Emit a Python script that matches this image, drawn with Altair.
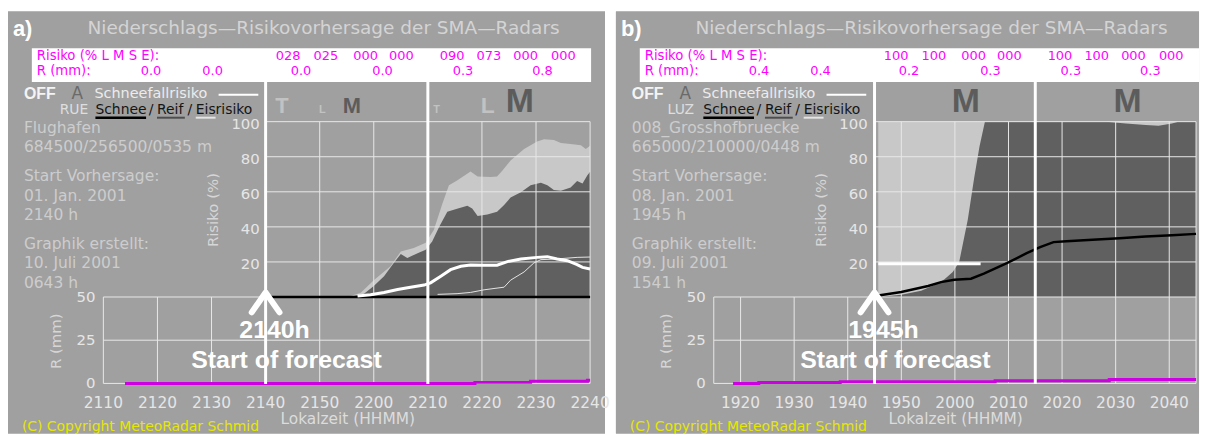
import altair as alt
import pandas as pd

# ------------------------------------------------------------------ data
RISK_TICKS = [20, 40, 60, 80, 100]
R_TICKS = [0, 25, 50]

# panel a)  (times of series are minutes after the forecast start)
A_TAG = "a)"
A_START = "2140"
A_RANGE = ["2110", "2240"]
A_AXIS_LABELS = ["2110", "2120", "2130", "2140", "2150", "2200", "2210", "2220", "2230", "2240"]
A_BLOCKS = ["2140", "2210"]
A_LIGHT_T = [15.7, 17.6, 20.0, 23.1, 25.0, 27.4, 29.6, 31.1, 32.7, 33.9, 35.4, 37.9, 39.2, 41.6, 42.8,
             43.8, 45.3, 47.8, 50.2, 51.5, 53.3, 54.6, 56.4, 58.3, 59.2, 60.0]
A_LIGHT_V = [0.6, 2.4, 9.6, 17.5, 26.0, 28.0, 31.0, 38.2, 53.3, 63.7, 66.5, 71.6, 68.7, 68.4, 68.7,
             72.1, 77.8, 84.4, 88.7, 90.0, 89.6, 87.8, 87.2, 86.6, 84.4, 86.3]
A_DARK_T = [15.7, 18.2, 20.0, 21.9, 23.7, 25.0, 26.2, 28.1, 29.6, 30.8, 32.1, 33.6, 35.4, 37.3, 38.2,
            39.2, 41.0, 42.8, 44.1, 45.3, 47.2, 49.0, 50.9, 52.1, 53.3, 54.6, 56.4, 57.6, 58.6, 59.5, 60.0]
A_DARK_V = [0.2, 1.9, 6.2, 11.9, 19.4, 24.5, 22.2, 25.0, 26.9, 31.6, 40.1, 48.6, 50.3, 52.0, 50.5,
            46.2, 47.1, 48.6, 52.4, 56.7, 59.7, 63.8, 65.1, 63.8, 61.0, 60.6, 62.5, 66.1, 64.8, 69.5, 71.4]
A_SNOWFALL_T = [17.0, 19.4, 21.9, 24.4, 26.8, 29.3, 30.5, 32.4, 34.2, 36.1, 37.9, 40.4, 42.8, 44.7,
                47.2, 50.2, 52.1, 53.9, 55.8, 57.6, 58.6, 60.0]
A_SNOWFALL_V = [0.6, 1.3, 2.6, 4.3, 5.6, 6.8, 8.1, 11.9, 15.6, 17.5, 18.3, 18.1, 18.1, 20.2,
                21.7, 22.6, 23.0, 21.7, 20.7, 18.5, 16.9, 16.0]
A_THIN_T = [31.8, 35.4, 37.9, 40.4, 44.1, 45.3, 47.8, 49.6, 50.9, 53.9, 57.6, 60.0]
A_THIN_V = [1.5, 1.9, 2.6, 4.1, 5.6, 9.6, 14.3, 19.4, 21.3, 21.7, 22.6, 22.8]
A_SCHNEE_T = [1.0, 60.0]
A_SCHNEE_V = [0.0, 0.0]
A_RAIN_T = [-26.0, 38.7, 49.0, 59.5, 60.0]
A_RAIN_V = [0.0, 0.6, 1.2, 1.8, 1.8]
A_HDR_RISK = ["028", "025", "000", "000", "090", "073", "000", "000"]
A_HDR_R = ["0.0", "0.0", "0.0", "0.0", "0.3", "0.8"]
A_STATION = "RUE"
A_INFO = ["Flughafen", "684500/256500/0535 m", "Start Vorhersage:", "01. Jan. 2001", "2140 h",
          "Graphik erstellt:", "10. Juli 2001", "0643 h"]
A_LETTERS = ["T", "L", "M", "T", "L", "M"]

# panel b)
B_TAG = "b)"
B_START = "1945"
B_RANGE = ["1915", "2045"]
B_AXIS_LABELS = ["1920", "1930", "1940", "1950", "2000", "2010", "2020", "2030", "2040"]
B_BLOCKS = ["1945", "2015"]
B_LIGHT_T = [0.7, 60.0]
B_LIGHT_V = [100.0, 100.0]
B_DARK_T = [0.7, 5.0, 8.7, 11.2, 13.0, 14.6, 15.8, 17.4, 18.6, 19.6, 20.6, 43.2, 46.9, 50.6, 53.0,
            55.5, 56.7, 60.0]
B_DARK_V = [0.0, 1.3, 3.6, 6.8, 10.0, 14.2, 20.0, 44.0, 68.0, 86.0, 100.0, 100.0, 98.9, 98.1, 97.7,
            98.9, 100.0, 100.0]
B_SNOWFALL_T = [0.7, 19.8]
B_SNOWFALL_V = [19.0, 19.0]
B_THIN_T = []
B_THIN_V = []
B_SCHNEE_T = [0.1, 5.0, 10.0, 12.4, 14.9, 18.0, 20.4, 24.7, 28.4, 30.9, 33.4, 35.8, 40.7, 45.7,
              50.6, 55.5, 60.0]
B_SCHNEE_V = [0.6, 2.8, 6.3, 8.5, 9.8, 10.4, 13.3, 19.3, 25.0, 28.4, 31.3, 31.8, 32.6, 33.5,
              34.5, 35.2, 36.0]
B_RAIN_T = [-26.4, -21.6, -6.4, 22.5, 43.8, 60.0]
B_RAIN_V = [0.0, 0.5, 1.0, 1.6, 2.2, 2.2]
B_HDR_RISK = ["100", "100", "000", "000", "100", "100", "000", "000"]
B_HDR_R = ["0.4", "0.4", "0.2", "0.3", "0.3", "0.3"]
B_STATION = "LUZ"
B_INFO = ["008_Grosshofbruecke", "665000/210000/0448 m", "Start Vorhersage:", "08. Jan. 2001",
          "1945 h", "Graphik erstellt:", "09. Juli 2001", "1541 h"]
B_LETTERS = ["M", "M"]

TITLE = "Niederschlags\u2014Risikovorhersage der SMA\u2014Radars"
COPYRIGHT = "(C) Copyright MeteoRadar Schmid"

# ------------------------------------------------------------------ style / layout
BG = "#a0a0a0"
LIGHT_AREA = "#c8c8c8"
DARK_AREA = "#606060"
GRID = "#e8e8e8"
MAGENTA = "#ff00ff"
RAIN = "#cc00e0"
INFO_C = "#cdcdcd"
TICK_C = "#e6e6e6"
TITLE_C = "#d4d4d4"
LETTER_LIGHT = "#c2c2c2"
LETTER_DARK = "#5c5c5c"
THIN = "DejaVu Sans"
BOLD = "Liberation Sans"

PANEL_H = 425
INFO_Y = [117, 137, 166, 186, 205, 234, 253, 273]
HDR_RISK_X = [282, 320, 360, 396, 447, 484, 521, 559]
HDR_R_X = [144, 206, 295, 377, 458, 538]
A_LETTER_POS = [(269, 95, 22), (313, 99, 11), (337, 95, 22), (428, 99, 11), (476, 95, 23), (501, 91, 34)]
A_LETTER_COL = [LETTER_LIGHT, LETTER_LIGHT, LETTER_DARK, LETTER_LIGHT, LETTER_LIGHT, LETTER_DARK]
B_LETTER_POS = [(338, 91, 34), (501, 91, 34)]
B_LETTER_COL = [LETTER_DARK, LETTER_DARK]

ONE = pd.DataFrame({"k": [0]})


def mins(hhmm):
    return int(hhmm[:2]) * 60 + int(hhmm[2:])


def label(txt, x, y, size, color, font=THIN, weight="normal", align="left", angle=None):
    kw = dict(align=align, baseline="middle", fontSize=size, color=color, font=font, fontWeight=weight)
    if angle is not None:
        kw["angle"] = angle
    return alt.Chart(ONE).mark_text(**kw).encode(x=alt.value(x), y=alt.value(y), text=alt.value(txt))


def hline(x1, x2, y, color, width):
    return alt.Chart(ONE).mark_rule(color=color, strokeWidth=width).encode(
        x=alt.value(x1), x2=alt.value(x2), y=alt.value(y))


def panel(tag, start, trange, x_px, axis_labels, blocks, light, dark, snowfall, thin, schnee, rain,
          hdr_risk, hdr_r, station, info, letters, letter_pos, letter_col, width):
    s0 = mins(start)
    t0, t1 = mins(trange[0]), mins(trange[1])
    xs = alt.Scale(domain=[t0, t1], range=x_px, nice=False, zero=False)
    yr = alt.Scale(domain=[0, 100], range=[287.5, 111], nice=False, zero=False)
    ym = alt.Scale(domain=[0, 50], range=[374.5, 287.5], nice=False, zero=False)

    def X(f):
        return alt.X(f, type="quantitative", scale=xs, axis=None)

    def YR(f):
        return alt.Y(f, type="quantitative", scale=yr, axis=None)

    def YM(f):
        return alt.Y(f, type="quantitative", scale=ym, axis=None)

    def ser(tv):
        t, v = tv
        return pd.DataFrame({"t": [s0 + o for o in t], "v": v})

    block_t = [mins(b) for b in blocks]
    r_grid_t = sorted(set([t0, t1] + [mins(s) for s in axis_labels]) - set(block_t))
    risk_grid_t = [t for t in r_grid_t if t > s0]

    layers = []
    # panel background
    layers.append(alt.Chart(ONE).mark_rect(color=BG).encode(
        x=alt.value(0), x2=alt.value(width), y=alt.value(0), y2=alt.value(PANEL_H)))
    # header box
    layers.append(alt.Chart(ONE).mark_rect(color="white").encode(
        x=alt.value(24), x2=alt.value(587), y=alt.value(37), y2=alt.value(71)))
    # risk areas
    layers.append(alt.Chart(ser(light)).mark_area(color=LIGHT_AREA, opacity=1).encode(
        x=X("t"), y=YR("v"), y2=alt.datum(0)))
    layers.append(alt.Chart(ser(dark)).mark_area(color=DARK_AREA, opacity=1).encode(
        x=X("t"), y=YR("v"), y2=alt.datum(0)))
    # risk grid
    layers.append(alt.Chart(pd.DataFrame({"v": RISK_TICKS, "a": s0, "b": t1})).mark_rule(
        color=GRID, strokeWidth=1).encode(x=X("a"), x2="b:Q", y=YR("v")))
    layers.append(alt.Chart(pd.DataFrame({"t": risk_grid_t, "lo": 0, "hi": 100})).mark_rule(
        color=GRID, strokeWidth=1).encode(x=X("t"), y=YR("lo"), y2="hi:Q"))
    # precipitation grid
    layers.append(alt.Chart(pd.DataFrame({"v": R_TICKS, "a": t0, "b": t1})).mark_rule(
        color=GRID, strokeWidth=1).encode(x=X("a"), x2="b:Q", y=YM("v")))
    layers.append(alt.Chart(pd.DataFrame({"t": r_grid_t, "lo": 0, "hi": 50})).mark_rule(
        color=GRID, strokeWidth=1).encode(x=X("t"), y=YM("lo"), y2="hi:Q"))
    # risk lines
    if thin[0]:
        layers.append(alt.Chart(ser(thin)).mark_line(color="#e4e4e4", strokeWidth=1).encode(
            x=X("t"), y=YR("v")))
    layers.append(alt.Chart(ser(schnee)).mark_line(color="black", strokeWidth=2.5).encode(
        x=X("t"), y=YR("v")))
    layers.append(alt.Chart(ser(snowfall)).mark_line(color="white", strokeWidth=3).encode(
        x=X("t"), y=YR("v")))
    # precipitation
    layers.append(alt.Chart(ser(rain)).mark_line(color=RAIN, strokeWidth=3, interpolate="step-after").encode(
        x=X("t"), y=YM("v")))
    # block separators
    layers.append(alt.Chart(pd.DataFrame({"t": block_t})).mark_rule(color="white", strokeWidth=3).encode(
        x=X("t"), y=alt.value(71), y2=alt.value(375)))
    # arrow head at forecast start
    sdf = pd.DataFrame({"t": [s0]})
    layers.append(alt.Chart(sdf).mark_point(
        shape="M -0.7 1 L 0 0 L 0.7 1", filled=False, size=1600, strokeWidth=6, color="white",
        opacity=1, strokeCap="round", strokeJoin="round").encode(x=X("t"), y=alt.value(283)))
    layers.append(alt.Chart(pd.DataFrame({"t": [s0], "s": [start + "h"]})).mark_text(
        font=BOLD, fontWeight="bold", fontSize=25, color="white", align="center", baseline="middle", dx=9
    ).encode(x=X("t"), y=alt.value(321), text="s:N"))
    layers.append(alt.Chart(sdf).mark_text(
        font=BOLD, fontWeight="bold", fontSize=25, color="white", align="center", baseline="middle", dx=21
    ).encode(x=X("t"), y=alt.value(351), text=alt.value("Start of forecast")))

    # titles
    layers.append(label(tag, 5, 18, 22, "white", font=BOLD, weight="bold"))
    layers.append(label(TITLE, 80, 17, 18.6, TITLE_C))
    # header texts
    layers.append(label("Risiko (% L M S E):", 29, 45, 13.3, MAGENTA))
    layers.append(label("R (mm):", 29, 60, 13.3, MAGENTA))
    layers.append(alt.Chart(pd.DataFrame({"s": hdr_risk, "px": HDR_RISK_X})).mark_text(
        font=THIN, fontSize=13, color=MAGENTA, align="center", baseline="middle").encode(
        x=alt.X("px:Q", scale=None), y=alt.value(45), text="s:N"))
    layers.append(alt.Chart(pd.DataFrame({"s": hdr_r, "px": HDR_R_X})).mark_text(
        font=THIN, fontSize=13, color=MAGENTA, align="center", baseline="middle").encode(
        x=alt.X("px:Q", scale=None), y=alt.value(60), text="s:N"))
    # legend block
    layers.append(label("OFF", 16, 83, 16, "#f4f4f4", font=BOLD, weight="bold"))
    layers.append(label("A", 64, 83, 17, "#6a6a6a"))
    layers.append(label("Schneefallrisiko", 87, 83, 14.5, "#ececec"))
    layers.append(hline(212, 252, 84, "white", 2))
    layers.append(label(station, 52, 99, 14, "#dedede"))
    layers.append(label("Schnee", 88, 99, 14, "#151515"))
    layers.append(label("/", 144, 99, 14, "#151515", align="center"))
    layers.append(label("Reif", 150, 99, 14, "#151515"))
    layers.append(label("/", 183, 99, 14, "#151515", align="center"))
    layers.append(label("Eisrisiko", 189, 99, 14, "#151515"))
    layers.append(hline(88, 139, 107, "black", 2.5))
    layers.append(hline(150, 178, 107, "#4e4e4e", 2))
    layers.append(hline(189, 209, 107, "#e4e4e4", 2))
    # info block
    layers.append(alt.Chart(pd.DataFrame({"s": info, "py": INFO_Y})).mark_text(
        font=THIN, fontSize=15.6, color=INFO_C, align="left", baseline="middle").encode(
        x=alt.value(16), y=alt.Y("py:Q", scale=None), text="s:N"))
    # T / L / M letters
    for ch, (px, py, fs), col in zip(letters, letter_pos, letter_col):
        layers.append(label(ch, px, py, fs, col, font=BOLD, weight="bold"))
    # axes (labels drawn through the scales)
    layers.append(label("Risiko (%)", 206, 200, 15, "#d6d6d6", align="center", angle=270))
    layers.append(alt.Chart(pd.DataFrame({"v": RISK_TICKS, "s": [str(v) for v in RISK_TICKS]})).mark_text(
        font=THIN, fontSize=15, color=TICK_C, align="right", baseline="middle", dy=2).encode(
        x=alt.value(253.5), y=YR("v"), text="s:N"))
    layers.append(label("R (mm)", x_px[0] - 48, 332, 15, "#d6d6d6", align="center", angle=270))
    layers.append(alt.Chart(pd.DataFrame({"v": R_TICKS, "s": [str(v) for v in R_TICKS]})).mark_text(
        font=THIN, fontSize=15, color=TICK_C, align="right", baseline="middle", dy=0).encode(
        x=alt.value(x_px[0] - 8), y=YM("v"), text="s:N"))
    layers.append(alt.Chart(pd.DataFrame({"t": [mins(s) for s in axis_labels], "s": axis_labels})).mark_text(
        font=THIN, fontSize=15.5, color=TICK_C, align="center", baseline="middle").encode(
        x=X("t"), y=alt.value(394), text="s:N"))
    layers.append(label("Lokalzeit (HHMM)", 342, 410, 15.5, "#dcdcdc", align="center"))
    layers.append(label(COPYRIGHT, 14, 418, 14, "#e6e600"))

    return alt.layer(*layers).resolve_scale(y="independent").properties(width=width, height=PANEL_H)


pa = panel(A_TAG, A_START, A_RANGE, [96, 586], A_AXIS_LABELS, A_BLOCKS,
           (A_LIGHT_T, A_LIGHT_V), (A_DARK_T, A_DARK_V), (A_SNOWFALL_T, A_SNOWFALL_V),
           (A_THIN_T, A_THIN_V), (A_SCHNEE_T, A_SCHNEE_V), (A_RAIN_T, A_RAIN_V),
           A_HDR_RISK, A_HDR_R, A_STATION, A_INFO, A_LETTERS, A_LETTER_POS, A_LETTER_COL, 601)
pb = panel(B_TAG, B_START, B_RANGE, [98.5, 584], B_AXIS_LABELS, B_BLOCKS,
           (B_LIGHT_T, B_LIGHT_V), (B_DARK_T, B_DARK_V), (B_SNOWFALL_T, B_SNOWFALL_V),
           (B_THIN_T, B_THIN_V), (B_SCHNEE_T, B_SCHNEE_V), (B_RAIN_T, B_RAIN_V),
           B_HDR_RISK, B_HDR_R, B_STATION, B_INFO, B_LETTERS, B_LETTER_POS, B_LETTER_COL, 587)

chart = alt.hconcat(pa, pb, spacing=6).properties(
    padding={"left": 0, "top": 2, "right": 0, "bottom": 0},
    background="white",
).configure_view(fill=BG, strokeWidth=0)

chart.save("out.html", embed_options={"renderer": "svg", "actions": False})
